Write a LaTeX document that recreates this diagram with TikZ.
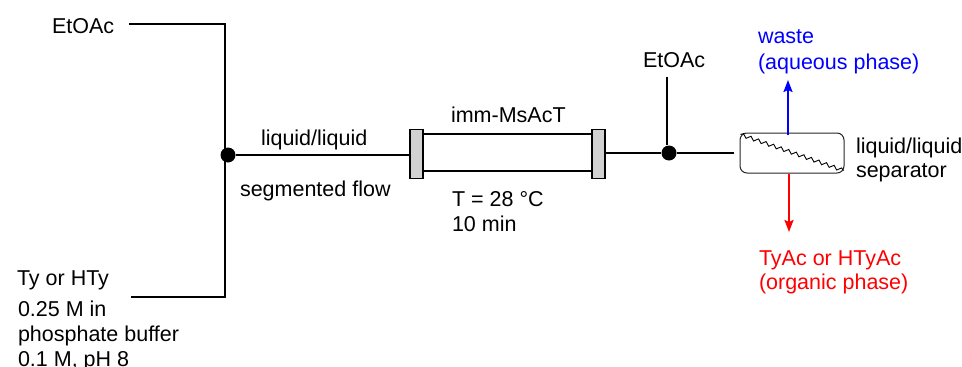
\documentclass[tikz,border=0pt]{standalone}
\usepackage{fontspec}
\setmainfont{Liberation Sans}
\usetikzlibrary{arrows.meta,decorations.pathmorphing,calc}
\tikzset{
  x=1pt,y=-1pt,
  lbl/.style={anchor=base west,inner sep=0pt,outer sep=0pt,font=\fontsize{21.5}{25}\selectfont,text=black},
  bluelbl/.style={lbl,text=blue},
  redlbl/.style={lbl,text=red},
  pipe/.style={draw=black,line width=2pt},
  thin pipe/.style={draw=black,line width=1.1pt},
  junction/.style={circle,fill=black,inner sep=0pt,minimum size=15pt},
  endcap/.style={draw=black,fill=black!18,line width=1.8pt,minimum width=13.5pt,minimum height=49pt,inner sep=0pt},
  separatorbox/.style={draw=black!85,line width=1pt,rounded corners=7pt,minimum width=104pt,minimum height=40pt,inner sep=0pt},
  flow/.style={line width=2pt,-{Stealth[length=12pt,width=9pt,inset=2pt]}}
}
\begin{document}
\begin{tikzpicture}
\useasboundingbox (0,0) rectangle (962,367);
% free ends and corners
\coordinate (inA) at (129,24);
\coordinate (cornerA) at (225,24);
\coordinate (inB) at (131,297);
\coordinate (cornerB) at (225,297);
\coordinate (outEnd) at (734,153);
\coordinate (solvent) at (667,77);
\coordinate (wasteEnd) at (788,80);
\coordinate (productEnd) at (789,232);
\coordinate (wasteStart) at (788,135);
\coordinate (productStart) at (789,174);
% nodes
\node[junction] (mix) at (228,155) {};
\node[junction] (mix2) at (669,153) {};
\node[endcap] (capL) at (416.5,154) {};
\node[endcap] (capR) at (598.5,154) {};
\node[separatorbox] (sep) at (792,153) {};
% labels
\node[lbl] (t1) at (52,33) {EtOAc};
\node[lbl] (t2) at (17,285) {Ty or HTy};
\node[lbl] (t3) at (18,316) {0.25 M in};
\node[lbl] (t4) at (18,341) {phosphate buffer};
\node[lbl] (t5) at (18,366) {0.1 M, pH 8};
\node[lbl] (t6) at (261,145) {liquid/liquid};
\node[lbl] (t7) at (240,196) {segmented flow};
\node[lbl] (t8) at (451,122) {imm-MsAcT};
\node[lbl] (t9) at (452,206) {T = 28 °C};
\node[lbl] (t10) at (452,231) {10 min};
\node[lbl] (t11) at (643,67) {EtOAc};
\node[bluelbl] (t12) at (758,43) {waste};
\node[bluelbl] (t13) at (758,69) {(aqueous phase)};
\node[lbl] (t14) at (856,153) {liquid/liquid};
\node[lbl] (t15) at (856,177) {separator};
\node[redlbl] (t16) at (759,265) {TyAc or HTyAc};
\node[redlbl] (t17) at (759,289) {(organic phase)};
% connectors
\draw[pipe] (inA) -- (cornerA) -- (cornerB) -- (inB);
\draw[pipe] (mix) -- (mix -| capL.west);
\draw[pipe] (capR.east |- mix2) -- (mix2);
\draw[pipe] (mix2) -- (outEnd);
\draw[thin pipe] (mix2.north -| solvent) -- (solvent);
\draw[pipe] (capL.east |- 0,134) -- (capR.west |- 0,134);
\draw[pipe] (capL.east |- 0,171) -- (capR.west |- 0,171);
\draw[black,line width=0.9pt,decorate,decoration={snake,amplitude=1.8pt,segment length=8pt}] ($(sep.north west)+(1,2)$) -- ($(sep.south east)+(-1,-3)$);
\draw[flow,blue] (wasteStart) -- (wasteEnd);
\draw[flow,red] (productStart) -- (productEnd);
\end{tikzpicture}
\end{document}
